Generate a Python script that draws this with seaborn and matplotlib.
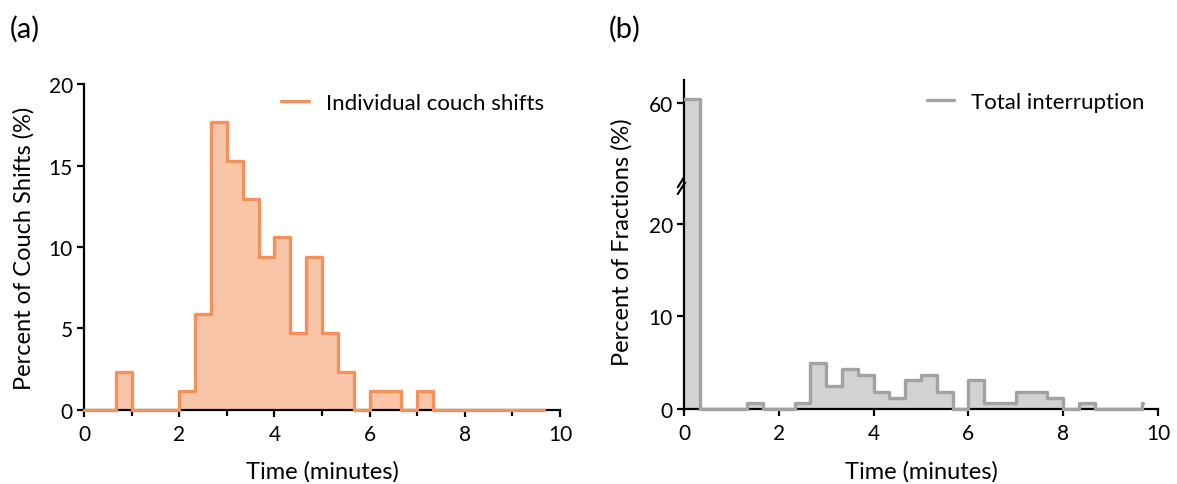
import numpy as np
import pandas as pd
import matplotlib
matplotlib.use("Agg")
import matplotlib.pyplot as plt
from matplotlib.patches import Rectangle
import seaborn as sns

# ---------------- data (percent per 20-s bin, bins start at 0 min) ----------------
bin_width_min = 1.0 / 3.0
couch_shift_pct = [0, 0, 2.35, 0, 0, 0, 1.18, 5.88, 17.65, 15.29, 12.94, 9.41,
                   10.59, 4.71, 9.41, 4.71, 2.35, 0, 1.18, 1.18, 0, 1.18,
                   0, 0, 0, 0, 0, 0, 0]
interruption_pct = [60.4, 0, 0, 0, 0.62, 0, 0, 0.62, 4.94, 2.47, 4.32, 3.70,
                    1.85, 1.23, 3.09, 3.70, 1.85, 0, 3.09, 0.62, 0.62, 1.85,
                    1.85, 1.23, 0, 0.62, 0, 0, 0, 0.62]
x_ticks = [0, 2, 4, 6, 8, 10]
y_ticks_a = [0, 5, 10, 15, 20]
y_ticks_b_low = [0, 10, 20]
y_ticks_b_high = [60]
label_a = "Individual couch shifts"
label_b = "Total interruption"

orange_line, orange_fill = "#F4915A", "#F8C5A9"
gray_line, gray_fill = "#A2A2A4", "#D2D2D4"

sns.set_theme(style="ticks")
plt.rcParams['font.family'] = ['Lato', 'DejaVu Sans']
plt.rcParams['axes.linewidth'] = 1.6
plt.rcParams['xtick.major.width'] = 1.6
plt.rcParams['ytick.major.width'] = 1.6
plt.rcParams['xtick.minor.width'] = 1.6
plt.rcParams['xtick.major.size'] = 5
plt.rcParams['ytick.major.size'] = 5
plt.rcParams['xtick.minor.size'] = 4
plt.rcParams['xtick.major.pad'] = 5
plt.rcParams['ytick.major.pad'] = 3
plt.rcParams['xtick.labelsize'] = 15
plt.rcParams['ytick.labelsize'] = 15
plt.rcParams['axes.edgecolor'] = 'black'
plt.rcParams['xtick.color'] = 'black'
plt.rcParams['ytick.color'] = 'black'
plt.rcParams['text.color'] = 'black'
plt.rcParams['axes.labelcolor'] = 'black'

LABEL_FS = 17
LEGEND_FS = 16

fig = plt.figure(figsize=(11.77, 4.85), dpi=100)
axA = fig.add_axes([0.0714, 0.1526, 0.4044, 0.6721])
axB = fig.add_axes([0.5811, 0.1546, 0.4028, 0.4681])
axT = fig.add_axes([0.5811, 0.6227, 0.4028, 0.2103])


def draw_hist(ax, pct, edges, fill_c, line_c, label=None):
    edges = [float(e) for e in edges]
    centers = [(a + b) / 2 for a, b in zip(edges[:-1], edges[1:])]
    df = pd.DataFrame({"t": centers, "pct": pct})
    sns.histplot(data=df, x="t", weights="pct", bins=edges, element="step",
                 fill=True, color=fill_c, alpha=1, linewidth=0, ax=ax)
    n_before = len(ax.lines)
    sns.histplot(data=df, x="t", weights="pct", bins=edges, element="step",
                 fill=False, color=line_c, linewidth=2.4, ax=ax, label=label)
    ln = ax.lines[n_before]
    ln.set_zorder(3)
    return ln


legend_kw = dict(loc="upper right", frameon=False, fontsize=LEGEND_FS,
                 handlelength=1.25, handletextpad=0.75, borderaxespad=0.0)

# ---------------- panel (a) ----------------
edges_a = list(np.arange(len(couch_shift_pct) + 1) * bin_width_min)
ln = draw_hist(axA, couch_shift_pct, edges_a, orange_fill, orange_line, label_a)
ln.set_clip_on(False)
axA.set_xlim(0, 10)
axA.set_ylim(0, 20)
axA.set_xticks(x_ticks)
axA.set_xticks(range(0, 11), minor=True)
axA.set_yticks(y_ticks_a)
for s in ["top", "right"]:
    axA.spines[s].set_visible(False)
axA.set_xlabel("Time (minutes)", fontsize=LABEL_FS)
axA.set_ylabel("Percent of Couch Shifts (%)", fontsize=LABEL_FS)
axA.xaxis.set_label_coords(0.5, -0.153)
axA.yaxis.set_label_coords(-0.103, 0.5)
axA.legend(bbox_to_anchor=(0.985, 1.0), **legend_kw)

# ---------------- panel (b), broken axis ----------------
edges_b = list(np.arange(len(interruption_pct) + 1) * bin_width_min)
edges_b[-1] = edges_b[-2] + 0.006  # last bin shown only as its rising edge
for ax in (axB, axT):
    ln = draw_hist(ax, interruption_pct, edges_b, gray_fill, gray_line,
                   label_b if ax is axT else None)
    ax.set_xlim(0, 10)
    for s in ["top", "right"]:
        ax.spines[s].set_visible(False)
    if ax is axB:
        clip = Rectangle((-0.01, -0.05), 1.03, 1.05, transform=ax.transAxes,
                         facecolor="none", edgecolor="none")
        ln.set_clip_path(clip)

axB.set_ylim(0, 24.5)
axB.set_yticks(y_ticks_b_low)
axB.set_xticks(x_ticks)
axB.set_xlabel("Time (minutes)", fontsize=LABEL_FS)
axB.set_ylabel("Percent of Fractions (%)", fontsize=LABEL_FS)
axB.xaxis.set_label_coords(0.5, -0.225)
axB.yaxis.set_label_coords(-0.108, 0.74)

axT.set_ylim(51.5, 62.5)
axT.set_yticks(y_ticks_b_high)
axT.spines["bottom"].set_visible(False)
axT.tick_params(axis="x", which="both", bottom=False, labelbottom=False)
axT.set_xlabel("")
axT.set_ylabel("")
axT.legend(bbox_to_anchor=(0.99, 0.97), **legend_kw)

# break marks on the y axis
for dy in (-0.018, 0.012):
    axB.plot([-0.013, 0.011], [1.0 + dy - 0.035, 1.0 + dy + 0.045],
             transform=axB.transAxes, color="black", lw=1.5, clip_on=False,
             zorder=5)

fig.text(0.008, 0.968, "(a)", fontsize=21, va="top", ha="left")
fig.text(0.517, 0.968, "(b)", fontsize=21, va="top", ha="left")

fig.savefig("out.png", dpi=100)
